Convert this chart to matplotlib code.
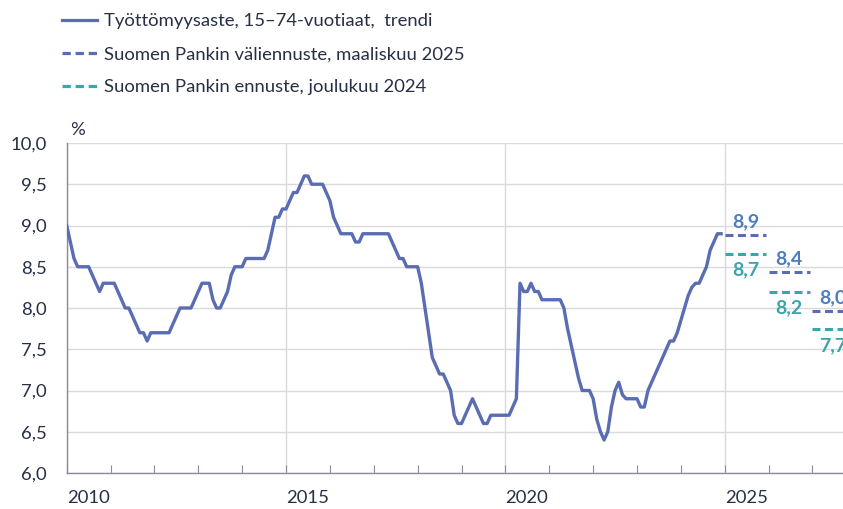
import numpy as np
import matplotlib.pyplot as plt
from matplotlib.lines import Line2D

plt.rcParams['font.family'] = ['Lato', 'DejaVu Sans']

# ---------------------------
# Data (monthly trend, Jan 2010 - Dec 2024)
# ---------------------------
start_year = 2010
unemployment = [
    9.0, 8.8, 8.6, 8.5, 8.5, 8.5, 8.5, 8.4, 8.3, 8.2,
    8.3, 8.3, 8.3, 8.3, 8.2, 8.1, 8.0, 8.0, 7.9, 7.8,
    7.7, 7.7, 7.6, 7.7, 7.7, 7.7, 7.7, 7.7, 7.7, 7.8,
    7.9, 8.0, 8.0, 8.0, 8.0, 8.1, 8.2, 8.3, 8.3, 8.3,
    8.1, 8.0, 8.0, 8.1, 8.2, 8.4, 8.5, 8.5, 8.5, 8.6,
    8.6, 8.6, 8.6, 8.6, 8.6, 8.7, 8.9, 9.1, 9.1, 9.2,
    9.2, 9.3, 9.4, 9.4, 9.5, 9.6, 9.6, 9.5, 9.5, 9.5,
    9.5, 9.4, 9.3, 9.1, 9.0, 8.9, 8.9, 8.9, 8.9, 8.8,
    8.8, 8.9, 8.9, 8.9, 8.9, 8.9, 8.9, 8.9, 8.9, 8.8,
    8.7, 8.6, 8.6, 8.5, 8.5, 8.5, 8.5, 8.3, 8.0, 7.7,
    7.4, 7.3, 7.2, 7.2, 7.1, 7.0, 6.7, 6.6, 6.6, 6.7,
    6.8, 6.9, 6.8, 6.7, 6.6, 6.6, 6.7, 6.7, 6.7, 6.7,
    6.7, 6.7, 6.8, 6.9, 8.3, 8.2, 8.2, 8.3, 8.2, 8.2,
    8.1, 8.1, 8.1, 8.1, 8.1, 8.1, 8.0, 7.75, 7.55, 7.35,
    7.15, 7.0, 7.0, 7.0, 6.9, 6.65, 6.5, 6.4, 6.5, 6.8,
    7.0, 7.1, 6.95, 6.9, 6.9, 6.9, 6.9, 6.8, 6.8, 7.0,
    7.1, 7.2, 7.3, 7.4, 7.5, 7.6, 7.6, 7.7, 7.85, 8.0,
    8.15, 8.25, 8.3, 8.3, 8.4, 8.5, 8.7, 8.8, 8.9, 8.9,
]

forecast_years = [2025, 2026, 2027]
forecast_mar25 = [8.88, 8.44, 7.96]
forecast_dec24 = [8.66, 8.20, 7.74]
labels_mar25 = ['8,9', '8,4', '8,0']
labels_dec24 = ['8,7', '8,2', '7,7']

legend_labels = [
    'Työttömyysaste, 15–74-vuotiaat,  trendi',
    'Suomen Pankin väliennuste, maaliskuu 2025',
    'Suomen Pankin ennuste, joulukuu 2024',
]
year_ticks = [2010, 2015, 2020, 2025]
y_ticks = np.arange(6.0, 10.01, 0.5)

# ---------------------------
# Styles
# ---------------------------
c_line = '#5A6DB3'
c_blue_lab = '#4E7EC0'
c_teal = '#3AA5AC'
c_text = '#262F45'
c_grid = '#D9D9DE'
c_axis = '#8A8A9E'
dash = (0, (2.6, 1.5))

W, H = 843, 509
fig = plt.figure(figsize=(W / 100, H / 100), dpi=100)
x0, y_bot, y_top = 66.7, 473, 143
ax = fig.add_axes([x0 / W, (H - y_bot) / H, 1 - x0 / W, (y_bot - y_top) / H])

months = start_year + np.arange(len(unemployment)) / 12
ax.plot(months, unemployment, color=c_line, lw=2.4, solid_joinstyle='round', zorder=3)

for yr, v1, v2, l1, l2 in zip(forecast_years, forecast_mar25, forecast_dec24,
                              labels_mar25, labels_dec24):
    ax.plot([yr, yr + 0.95], [v1, v1], color=c_line, lw=2.2, linestyle=dash, zorder=3)
    ax.plot([yr, yr + 0.95], [v2, v2], color=c_teal, lw=2.2, linestyle=dash, zorder=3)
    ax.annotate(l1, (yr + 0.47, v1), xytext=(0, 9.5), textcoords='offset points',
                ha='center', va='center', color=c_blue_lab, fontsize=14,
                fontweight='bold', annotation_clip=False)
    ax.annotate(l2, (yr + 0.47, v2), xytext=(0, -11.5), textcoords='offset points',
                ha='center', va='center', color=c_teal, fontsize=14,
                fontweight='bold', annotation_clip=False)

ax.set_xlim(start_year, start_year + (W - x0) / 43.87)
ax.set_ylim(6.0, 10.0)

ax.set_yticks(y_ticks)
ax.set_yticklabels([f'{v:.1f}'.replace('.', ',') for v in y_ticks])
ax.set_xticks(year_ticks)
ax.set_xticks(np.arange(2010, 2028), minor=True)
ax.set_xticklabels([str(y) for y in year_ticks], ha='left')

ax.grid(axis='y', color=c_grid, lw=1.0)
ax.grid(axis='x', which='major', color=c_grid, lw=1.0)
ax.set_axisbelow(True)

ax.tick_params(axis='y', length=0, pad=14.5, labelsize=13.3, labelcolor=c_text)
ax.tick_params(axis='x', which='both', direction='in', length=6, width=0.8,
               color=c_axis, pad=12, labelsize=13.3, labelcolor=c_text)
for lab in ax.get_xticklabels():
    lab.set_x(lab.get_position()[0] - 0.05)

for side in ['top', 'right']:
    ax.spines[side].set_visible(False)
ax.spines['bottom'].set_color(c_axis)
ax.spines['left'].set_color(c_axis)
ax.spines['bottom'].set_linewidth(1.0)
ax.spines['left'].set_linewidth(1.0)

fig.text(70 / W, 1 - 130 / H, '%', fontsize=13.3, color=c_text, va='center', ha='left')

handles = [
    Line2D([], [], color=c_line, lw=2.3),
    Line2D([], [], color=c_line, lw=2.3, linestyle=dash),
    Line2D([], [], color=c_teal, lw=2.3, linestyle=dash),
]
fig.legend(handles, legend_labels, loc='upper left', bbox_to_anchor=(55 / W, 1 - 6 / H),
           frameon=False, fontsize=13.3, labelcolor=c_text, handlelength=1.9,
           handletextpad=0.33, labelspacing=0.92, borderaxespad=0)

fig.savefig('out.png', dpi=100)
plt.close()
